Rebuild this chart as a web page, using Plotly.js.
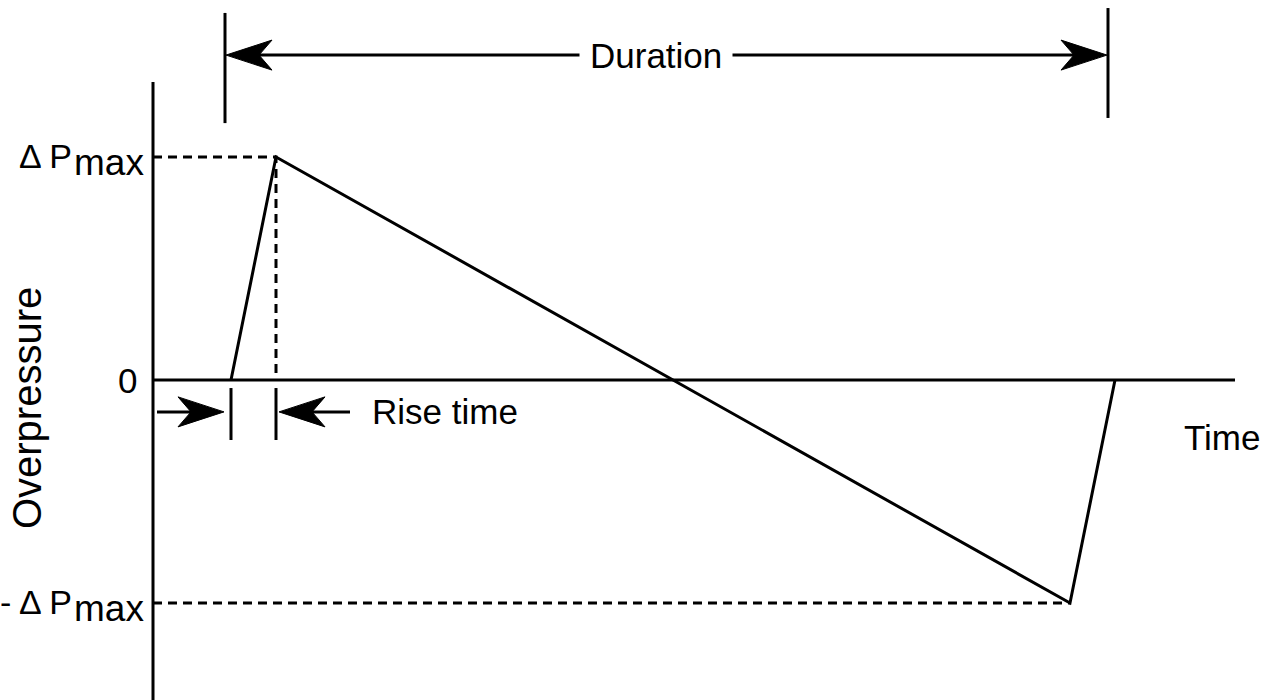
<!DOCTYPE html>
<html>
<head>
<meta charset="utf-8">
<script src="https://cdn.plot.ly/plotly-3.0.1.min.js"></script>
<style>html,body{margin:0;padding:0;background:#fff;}#chart{width:1278px;height:700px;}</style>
</head>
<body>
<div id="chart"></div>
<script>
// ---- data (schematic N-wave, time in arbitrary units, pressure in units of ΔPmax) ----
const waveTime = [0.78, 1.23, 9.17, 9.62];
const wavePressure = [0, 1, -1, 0];
const pressureTicks = [1, 0, -1];
const pressureTickMain = ['Δ P', '0', '- Δ P'];
const pressureTickSub = ['max', '', 'max'];
const timeAxisEnd = 10.82;
const pressureAxisTop = 1.336;
const pressureAxisBottom = -1.435;
const durationBarTime = [0.72, 9.55];
const durationBarTop = [1.646, 1.668];
const durationBarBottom = [1.152, 1.175];
const durationArrowP = 1.457;
const durationLabelTime = 5.03;
const riseTickTime = [0.78, 1.23];
const riseTickTop = -0.036;
const riseTickBottom = -0.269;
const riseArrowP = -0.143;
const riseLeftArrow = [0.04, 0.71];   // tail, tip
const riseRightArrow = [1.97, 1.26];  // tail, tip
const riseLabelTime = 2.17;
const timeLabelPos = [10.69, -0.256];
const pressureLabelPos = [-1.26, -0.126];

// ---- scales (px per unit), used only for layout geometry ----
const PX_T = 100, PX_P = 223;
const xRange = [-153 / PX_T, (1278 - 153) / PX_T];
const yRange = [(380 - 700) / PX_P, 380 / PX_P];

const black = '#000';
const lw = 3;
const fam = '"Liberation Sans", Arial, Helvetica, sans-serif';

function arrowHead(tipT, p, dir) {
  const L = 46 / PX_T, N = 33 / PX_T, H = 15 / PX_P;
  const b = tipT - dir * L, n = tipT - dir * N;
  return {
    type: 'path', xref: 'x', yref: 'y',
    path: `M${tipT},${p} L${b},${p + H} L${n},${p} L${b},${p - H} Z`,
    fillcolor: black, line: {color: black, width: 1}
  };
}
function seg(x0, y0, x1, y1, w) {
  return {type: 'line', xref: 'x', yref: 'y', x0, y0, x1, y1, line: {color: black, width: w || lw}};
}

const shapes = [
  seg(0, pressureAxisBottom, 0, pressureAxisTop),
  seg(0, 0, timeAxisEnd, 0),
  seg(durationBarTime[0], durationBarBottom[0], durationBarTime[0], durationBarTop[0]),
  seg(durationBarTime[1], durationBarBottom[1], durationBarTime[1], durationBarTop[1]),
  seg(durationBarTime[0] + 0.1, durationArrowP, durationBarTime[1] - 0.1, durationArrowP),
  arrowHead(durationBarTime[0] + 0.01, durationArrowP, -1),
  arrowHead(durationBarTime[1] - 0.01, durationArrowP, 1),
  seg(riseTickTime[0], riseTickBottom, riseTickTime[0], riseTickTop),
  seg(riseTickTime[1], riseTickBottom, riseTickTime[1], riseTickTop),
  seg(riseLeftArrow[0], riseArrowP, riseLeftArrow[1] - 0.1, riseArrowP),
  arrowHead(riseLeftArrow[1], riseArrowP, 1),
  seg(riseRightArrow[0], riseArrowP, riseRightArrow[1] + 0.1, riseArrowP),
  arrowHead(riseRightArrow[1], riseArrowP, -1)
];

const traces = [
  {
    x: [0, waveTime[1], waveTime[1], null, 0, waveTime[2]],
    y: [wavePressure[1], wavePressure[1], 0, null, wavePressure[2], wavePressure[2]],
    mode: 'lines', line: {color: black, width: lw, dash: '9px,6px'},
    hoverinfo: 'skip', connectgaps: false
  },
  {
    x: waveTime, y: wavePressure,
    mode: 'lines', line: {color: black, width: lw},
    hoverinfo: 'skip'
  }
];

const annotations = [
  {x: durationLabelTime, y: durationArrowP, xref: 'x', yref: 'y', text: 'Duration', showarrow: false,
   font: {family: fam, size: 35, color: black}, bgcolor: '#fff', borderpad: 10},
  {x: riseLabelTime, y: riseArrowP, xref: 'x', yref: 'y', text: 'Rise time', showarrow: false,
   xanchor: 'left', font: {family: fam, size: 35, color: black}},
  {x: timeLabelPos[0], y: timeLabelPos[1], xref: 'x', yref: 'y', text: 'Time', showarrow: false,
   font: {family: fam, size: 35, color: black}},
  {x: pressureLabelPos[0], y: pressureLabelPos[1], xref: 'x', yref: 'y', text: 'Overpressure', showarrow: false,
   textangle: -90, font: {family: fam, size: 40, color: black}}
];

// tick labels of the pressure axis, placed just left of the axis line
pressureTicks.forEach((v, i) => {
  if (pressureTickSub[i]) {
    annotations.push({x: -0.07, y: v, xref: 'x', yref: 'y', xanchor: 'right', yanchor: 'middle',
      yshift: -5, text: pressureTickSub[i], showarrow: false,
      font: {family: fam, size: 37, color: black}});
    annotations.push({x: -0.07 - 0.72, y: v, xref: 'x', yref: 'y', xanchor: 'right', yanchor: 'middle',
      yshift: 1, text: pressureTickMain[i], showarrow: false,
      font: {family: fam, size: 34, color: black}});
  } else {
    annotations.push({x: -0.14, y: v, xref: 'x', yref: 'y', xanchor: 'right', yanchor: 'middle',
      text: pressureTickMain[i], showarrow: false,
      font: {family: fam, size: 35, color: black}});
  }
});

const layout = {
  width: 1278, height: 700,
  margin: {l: 0, r: 0, t: 0, b: 0},
  paper_bgcolor: '#fff', plot_bgcolor: '#fff',
  showlegend: false,
  font: {family: fam, color: black, size: 27},
  xaxis: {range: xRange, visible: false, fixedrange: true},
  yaxis: {range: yRange, visible: false, fixedrange: true},
  shapes: shapes,
  annotations: annotations
};

Plotly.newPlot('chart', traces, layout, {displayModeBar: false, staticPlot: true});
</script>
</body>
</html>
